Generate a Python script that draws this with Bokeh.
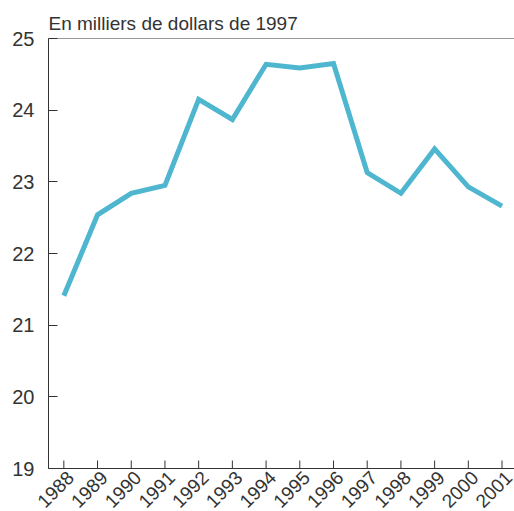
from bokeh.plotting import figure
from bokeh.models import Range1d, FixedTicker, Span, LinearAxis
from bokeh.embed import file_html
from bokeh.resources import INLINE
import math

years = [1988, 1989, 1990, 1991, 1992, 1993, 1994, 1995, 1996, 1997, 1998, 1999, 2000, 2001]
values = [21.41, 22.54, 22.84, 22.95, 24.15, 23.87, 24.64, 24.59, 24.65, 23.13, 22.84, 23.46, 22.93, 22.66]
y_ticks = [19, 20, 21, 22, 23, 24, 25]
subtitle = "En milliers de dollars de 1997"

FONT = "Liberation Sans"
TXT = "#333333"
X0, X1 = 1987.545, 2001.37
SHIFT = 0.2

p = figure(width=514, height=516, output_backend="svg", toolbar_location=None,
           x_range=Range1d(X0, X1), y_range=Range1d(19, 25),
           x_axis_location=None,
           min_border_left=48, min_border_right=0, min_border_top=38, min_border_bottom=0)

p.title.text = subtitle
p.title.text_font = FONT
p.title.text_font_size = "19px"
p.title.text_font_style = "normal"
p.title.text_color = TXT
p.title.align = "left"
p.title.standoff = 10

p.line(years, values, line_color="#4fb6d0", line_width=5, line_join="miter")

p.outline_line_color = None
p.xgrid.visible = False
p.ygrid.visible = False

p.add_layout(Span(location=25, dimension="width", line_color=TXT, line_width=1))

# inward x ticks at each year
p.ray(x=years, y=[19] * len(years), length=8, length_units="screen",
      angle=math.pi / 2, line_color=TXT, line_width=1)

p.extra_x_ranges = {"lbl": Range1d(X0 - SHIFT, X1 - SHIFT)}
xaxis = LinearAxis(x_range_name="lbl", ticker=FixedTicker(ticks=years),
                   axis_line_color=TXT, major_tick_line_color=None,
                   minor_tick_line_color=None,
                   major_label_orientation=math.pi / 4,
                   major_label_text_font=FONT, major_label_text_color=TXT,
                   major_label_text_font_size="19px", major_label_standoff=0)
p.add_layout(xaxis, "below")

yax = p.yaxis[0]
yax.axis_line_color = TXT
yax.major_tick_line_color = TXT
yax.major_tick_in = 9
yax.major_tick_out = 0
yax.minor_tick_line_color = None
yax.major_label_text_font = FONT
yax.major_label_text_color = TXT
yax.ticker = FixedTicker(ticks=y_ticks)
yax.major_label_text_font_size = "20px"
yax.major_label_standoff = 14

open("out.html", "w").write(file_html(p, INLINE))
